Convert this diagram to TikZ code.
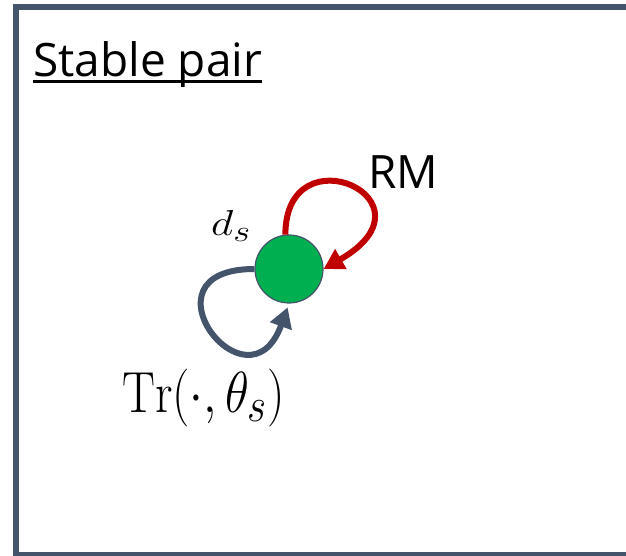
\documentclass[tikz,border=0pt]{standalone}
\usepackage{graphicx}
\usepackage{fontspec}
\setsansfont{Open Sans}
\usetikzlibrary{arrows.meta}
\definecolor{slate}{HTML}{44546A}
\definecolor{darkred}{HTML}{C00000}
\definecolor{stgreen}{HTML}{00B050}
\begin{document}
\begin{tikzpicture}[x=1pt,y=1pt,
  lbl/.style={inner sep=0pt, font=\sffamily\fontsize{46}{55}\selectfont},
  mathlbl/.style={inner sep=0pt, font=\Huge},
  loopred/.style={draw=darkred, line width=6pt, -{Triangle[length=20pt,width=22pt]}},
  loopgray/.style={draw=slate, line width=6pt, -{Triangle[length=20pt,width=22pt]}},
  state/.style={circle, fill=stgreen, draw=slate, line width=1.2pt, minimum size=68pt, inner sep=0pt}]
\useasboundingbox (0,0) rectangle (626,556);
\clip (0,0) rectangle (626,556);
\draw[slate, line width=6pt] (16,1) rectangle (660,549);
\node[lbl, anchor=base west] (title) at (33,479) {Stable pair};
\draw[line width=2.5pt] ([yshift=-4.5pt]title.base west) -- ([yshift=-4.5pt]title.base east);
\node[lbl, anchor=base west] (rm) at (368,367) {RM};
\node[state] (c) at (289,287) {};
\node[mathlbl, anchor=base west] (ds) at (211,320) {\scalebox{1.75}[1.45]{$d_s$}};
\node[mathlbl, anchor=base west] (tr) at (122,143) {\scalebox{1.98}[2.33]{$\mathrm{Tr}(\cdot,\theta_s)$}};
\draw[loopred] (c.96) .. controls +(0,105) and +(120,69) .. (c.east);
\draw[loopgray, shorten >=4pt] (c.west) .. controls +(-120,0) and +(-41,-113) .. (c.south);
\end{tikzpicture}
\end{document}
